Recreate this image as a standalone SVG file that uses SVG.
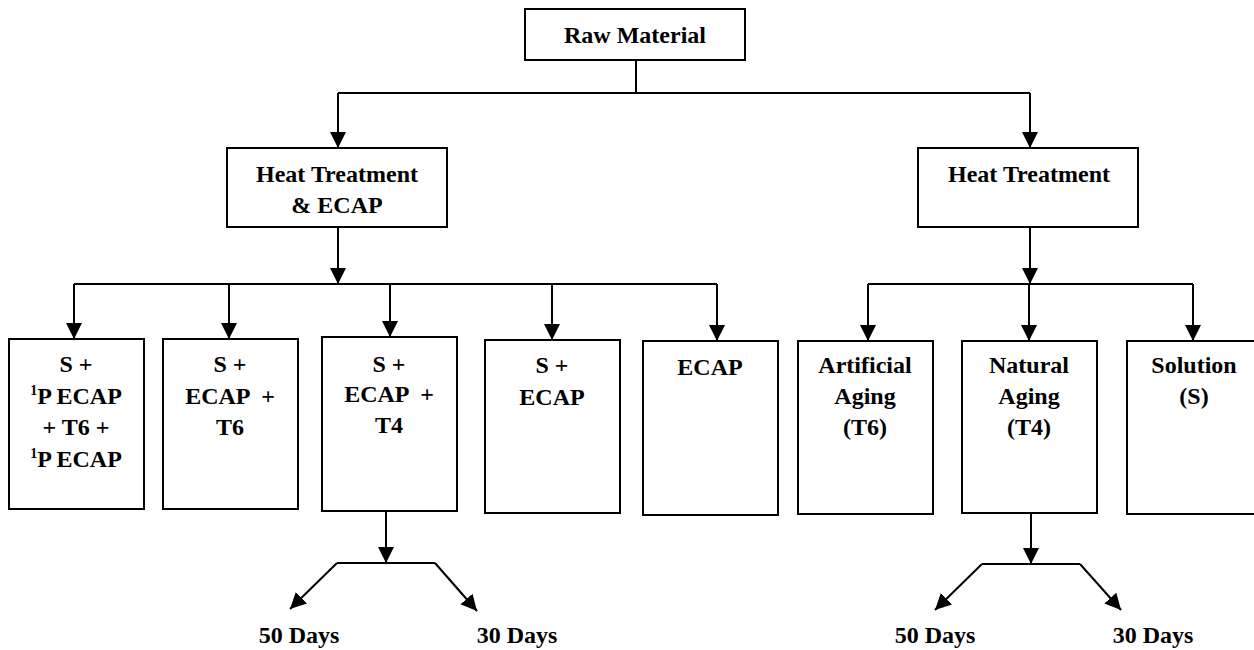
<svg xmlns="http://www.w3.org/2000/svg" width="1254" height="650" viewBox="0 0 1254 650">
<defs>
<style>
.box{fill:#fff;stroke:#000;stroke-width:2}
.ln{fill:none;stroke:#000;stroke-width:2}
.ar{fill:none;stroke:#000;stroke-width:2;marker-end:url(#ah)}
text{font-family:"Liberation Serif","Times New Roman",serif;font-weight:bold;font-size:24px;fill:#000;text-anchor:middle}
.sup{font-size:14px}
</style>
<marker id="ah" markerUnits="userSpaceOnUse" markerWidth="18" markerHeight="18" refX="16" refY="8" orient="auto">
<path d="M0,0 L16,8 L0,16 Z" fill="#000"/>
</marker>
</defs>
<rect width="1254" height="650" fill="#fff"/>
<g id="connectors">
<path class="ln" d="M636,60 V93 M338,93 H1030"/>
<path class="ar" d="M338,93 V148"/>
<path class="ar" d="M1030,93 V148"/>
<path class="ar" d="M338,227 V284"/>
<path class="ln" d="M74,284 H717"/>
<path class="ar" d="M74,284 V339"/>
<path class="ar" d="M229,284 V339"/>
<path class="ar" d="M390,284 V337"/>
<path class="ar" d="M552,284 V340"/>
<path class="ar" d="M717,284 V341"/>
<path class="ar" d="M1030,227 V284"/>
<path class="ln" d="M868,284 H1193"/>
<path class="ar" d="M868,284 V341"/>
<path class="ar" d="M1029,284 V341"/>
<path class="ar" d="M1193,284 V341"/>
<path class="ar" d="M386,511 V563"/>
<path class="ln" d="M337,563 H435"/>
<path class="ar" d="M337,563 L290,609"/>
<path class="ar" d="M435,563 L477,611"/>
<path class="ar" d="M1031,513 V564"/>
<path class="ln" d="M982,564 H1080"/>
<path class="ar" d="M982,564 L935,610"/>
<path class="ar" d="M1080,564 L1121,610"/>
</g>
<g id="raw"><rect class="box" x="525" y="9" width="220" height="51"/><text x="635" y="43">Raw Material</text></g>
<g id="ht-ecap"><rect class="box" x="227" y="148" width="220" height="79"/><text x="337" y="182">Heat Treatment</text><text x="337" y="213">&amp; ECAP</text></g>
<g id="ht"><rect class="box" x="918" y="148" width="220" height="79"/><text x="1029" y="182">Heat Treatment</text></g>
<g id="b1"><rect class="box" x="9" y="339" width="135" height="170"/>
<text x="76" y="372">S +</text>
<text x="76" y="404"><tspan class="sup" dy="-9">1</tspan><tspan dy="9">P ECAP</tspan></text>
<text x="76" y="435">+ T6 +</text>
<text x="76" y="467"><tspan class="sup" dy="-9">1</tspan><tspan dy="9">P ECAP</tspan></text></g>
<g id="b2"><rect class="box" x="163" y="339" width="135" height="170"/>
<text x="230" y="372">S +</text><text x="230" y="404" xml:space="preserve">ECAP  +</text><text x="230" y="435">T6</text></g>
<g id="b3"><rect class="box" x="322" y="337" width="135" height="174"/>
<text x="389" y="372">S +</text><text x="389" y="402" xml:space="preserve">ECAP  +</text><text x="389" y="433">T4</text></g>
<g id="b4"><rect class="box" x="485" y="340" width="135" height="173"/>
<text x="552" y="373">S +</text><text x="552" y="405">ECAP</text></g>
<g id="b5"><rect class="box" x="643" y="341" width="135" height="174"/>
<text x="710" y="375">ECAP</text></g>
<g id="art"><rect class="box" x="798" y="341" width="135" height="173"/>
<text x="865" y="373">Artificial</text><text x="865" y="404">Aging</text><text x="865" y="435">(T6)</text></g>
<g id="nat"><rect class="box" x="962" y="341" width="135" height="172"/>
<text x="1029" y="373">Natural</text><text x="1029" y="404">Aging</text><text x="1029" y="435">(T4)</text></g>
<g id="sol"><rect class="box" x="1127" y="341" width="135" height="173"/>
<text x="1194" y="373">Solution</text><text x="1194" y="404">(S)</text></g>
<g id="d1"><text x="299" y="643">50 Days</text></g>
<g id="d2"><text x="517" y="643">30 Days</text></g>
<g id="d3"><text x="935" y="643">50 Days</text></g>
<g id="d4"><text x="1153" y="643">30 Days</text></g>
</svg>
